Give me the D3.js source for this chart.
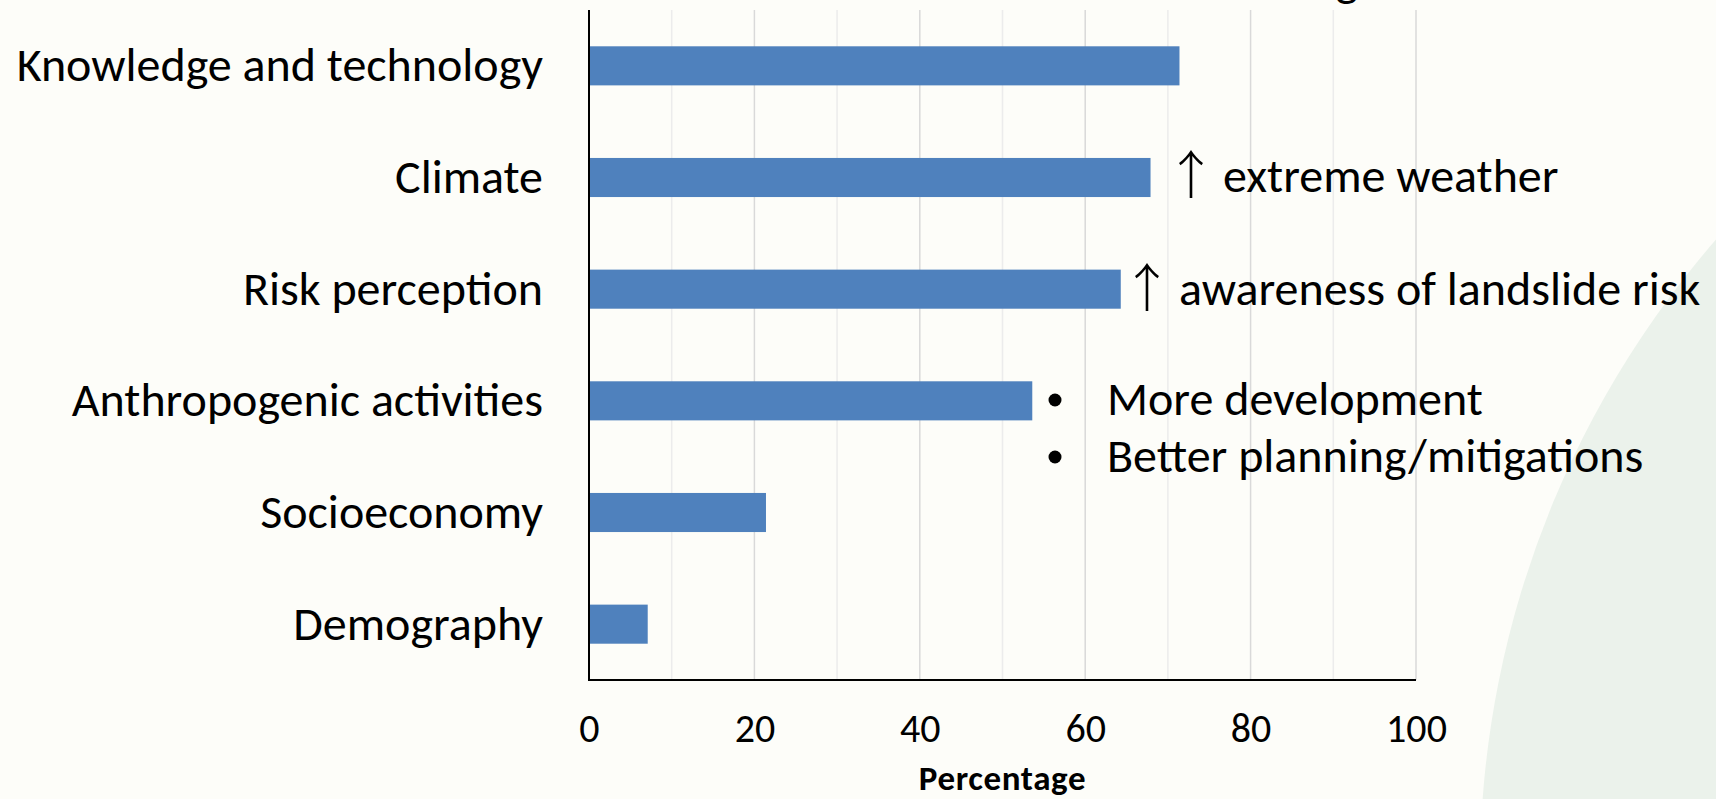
<!DOCTYPE html>
<html>
<head>
<meta charset="utf-8">
<script src="https://cdn.jsdelivr.net/npm/d3@7"></script>
<style>
  html, body { margin: 0; padding: 0; background: #fdfdf9; overflow: hidden; }
  svg { display: block; }
  text { font-family: Carlito, Calibri, Lato, sans-serif; fill: #000; }
</style>
</head>
<body>
<svg id="chart" width="1716" height="799"></svg>
<script>
// Share of respondents (%) naming each driver of changing landslide risk
const categories = [
  "Knowledge and technology",
  "Climate",
  "Risk perception",
  "Anthropogenic activities",
  "Socioeconomy",
  "Demography"
];
const percentages = [71.4, 67.9, 64.3, 53.6, 21.4, 7.1];
const tickValues = [0, 20, 40, 60, 80, 100];
const axisTitle = "Percentage";

// Notes written beside the bars
const arrowNotes = [
  { category: "Climate", text: "extreme weather" },
  { category: "Risk perception", text: "awareness of landslide risk" }
];
const bulletNotes = ["More development", "Better planning/mitigations"];

const W = 1716, H = 799;
const plot = { left: 589, right: 1416, top: 10, bottom: 680 };
const barColor = "#4f81bd";
const labelSize = 48;

const svg = d3.select("#chart");

// page backdrop with the pale green disc on the right
svg.append("rect").attr("width", W).attr("height", H).attr("fill", "#fdfdf9");
svg.append("circle")
  .attr("cx", 2440).attr("cy", 870).attr("r", 960)
  .attr("fill", "#ebf2eb");

// heading above the chart runs off the top edge; only its last descender shows
svg.append("text")
  .attr("x", 1358).attr("y", -4)
  .attr("text-anchor", "end")
  .style("font-size", labelSize + "px")
  .text("g");

const x = d3.scaleLinear().domain([0, 100]).range([plot.left, plot.right]);
const y = d3.scaleBand().domain(categories)
  .range([plot.top, plot.bottom])
  .paddingInner(0.65).paddingOuter(0.325);

// vertical gridlines: darker at labelled values, lighter in between
svg.append("g").selectAll("line")
  .data(x.ticks(10).filter(d => d > 0))
  .join("line")
  .attr("x1", d => x(d)).attr("x2", d => x(d))
  .attr("y1", plot.top).attr("y2", plot.bottom)
  .attr("stroke", d => d % 20 === 0 ? "#d9d9d9" : "#ececec")
  .attr("stroke-width", 1.5);

// bars
svg.append("g").selectAll("rect")
  .data(categories.map((c, i) => ({ c, v: percentages[i] })))
  .join("rect")
  .attr("x", x(0))
  .attr("y", d => y(d.c))
  .attr("width", d => x(d.v) - x(0))
  .attr("height", y.bandwidth())
  .attr("fill", barColor);

// x axis: tick labels only, plus the baseline
const xAxis = svg.append("g")
  .attr("transform", `translate(0,${plot.bottom})`)
  .call(d3.axisBottom(x).tickValues(tickValues).tickSize(0).tickPadding(34));
xAxis.select(".domain").remove();
xAxis.selectAll("text").style("font-size", "40px").style("font-family", null);

svg.append("line")
  .attr("x1", plot.left).attr("x2", plot.right)
  .attr("y1", plot.bottom).attr("y2", plot.bottom)
  .attr("stroke", "#000").attr("stroke-width", 2);

// y axis: category names and the vertical axis line
const yAxis = svg.append("g")
  .attr("transform", `translate(${plot.left},0)`)
  .call(d3.axisLeft(y).tickSize(0).tickPadding(46));
yAxis.select(".domain").remove();
yAxis.selectAll("text").style("font-size", labelSize + "px").style("font-family", null);

svg.append("line")
  .attr("x1", plot.left).attr("x2", plot.left)
  .attr("y1", plot.top).attr("y2", plot.bottom + 1)
  .attr("stroke", "#000").attr("stroke-width", 2);

// axis title
svg.append("text")
  .attr("x", (plot.left + plot.right) / 2).attr("y", 790)
  .attr("text-anchor", "middle")
  .style("font-size", "35px").style("font-weight", "bold")
  .style("letter-spacing", "0.6px")
  .text(axisTitle);

// "up arrow" notes beside the climate and risk-perception bars
const arrowX = { "Climate": 1165, "Risk perception": 1121 };
const arrowDy = { "Climate": 14, "Risk perception": 16 };
const notes = svg.append("g").selectAll("text")
  .data(arrowNotes)
  .join("text")
  .attr("x", d => arrowX[d.category])
  .attr("y", d => y(d.category) + y.bandwidth() / 2 + arrowDy[d.category])
  .style("font-size", labelSize + "px");
notes.append("tspan")
  .style("font-family", "'Noto Sans CJK JP'")
  .style("font-weight", 300)
  .style("font-size", "52px")
  .attr("dy", 2)
  .text("\u2191");
notes.append("tspan").attr("dx", 6).attr("dy", -2).text(d => d.text);

// bulleted notes next to the anthropogenic-activities bar
const bulletTop = 415, bulletStep = 57;
const bullets = svg.append("g").selectAll("g")
  .data(bulletNotes)
  .join("g")
  .attr("transform", (d, i) => `translate(0,${bulletTop + i * bulletStep})`);
bullets.append("circle").attr("cx", 1055).attr("cy", -15).attr("r", 6.5).attr("fill", "#000");
bullets.append("text").attr("x", 1107).attr("y", 0).style("font-size", labelSize + "px").text(d => d);
</script>
</body>
</html>
